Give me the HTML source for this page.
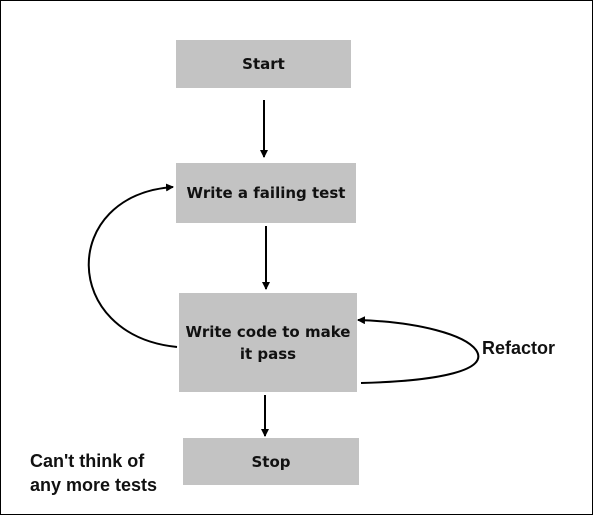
<!DOCTYPE html>
<html><head><style>
body{margin:0;width:593px;height:515px;background:#fff;overflow:hidden;font-family:"DejaVu Sans","Liberation Sans",sans-serif}
.f{position:absolute;left:0;top:0;width:591px;height:513px;border:1px solid #000}
.b{position:absolute;background:#c3c3c3;display:flex;align-items:center;justify-content:center;text-align:center;font-weight:bold;font-size:15px;color:#111;line-height:22px}
.t{position:absolute;font-family:"Liberation Sans",sans-serif;font-weight:bold;font-size:18px;color:#111}
</style></head><body>
<div class="f"></div>
<div class="b" style="left:176px;top:40px;width:175px;height:48px">Start</div>
<div class="b" style="left:176px;top:163px;width:180px;height:60px">Write a failing test</div>
<div class="b" style="left:179px;top:293px;width:178px;height:99px">Write code to make<br>it pass</div>
<div class="b" style="left:183px;top:438px;width:176px;height:47px">Stop</div>
<div class="t" style="left:482px;top:338px">Refactor</div>
<div class="t" style="left:30px;top:449px;line-height:24px">Can't think of<br>any more tests</div>
<svg width="593" height="515" style="position:absolute;left:0;top:0">
<defs><marker id="a" markerWidth="8" markerHeight="8" refX="7" refY="4" orient="auto" markerUnits="userSpaceOnUse"><path d="M0,0L8,4L0,8z" fill="#000"/></marker></defs>
<g stroke="#000" stroke-width="2" fill="none">
<line x1="264" y1="100" x2="264" y2="157" marker-end="url(#a)"/>
<line x1="266" y1="226" x2="266" y2="289" marker-end="url(#a)"/>
<line x1="265" y1="395" x2="265" y2="436" marker-end="url(#a)"/>
<path d="M177,347 C60,335 60,195 173,187" marker-end="url(#a)"/>
<path d="M361,383 C440,381 490,370 476,350 C465,335 420,322 358,320" marker-end="url(#a)"/>
</g></svg>
</body></html>
